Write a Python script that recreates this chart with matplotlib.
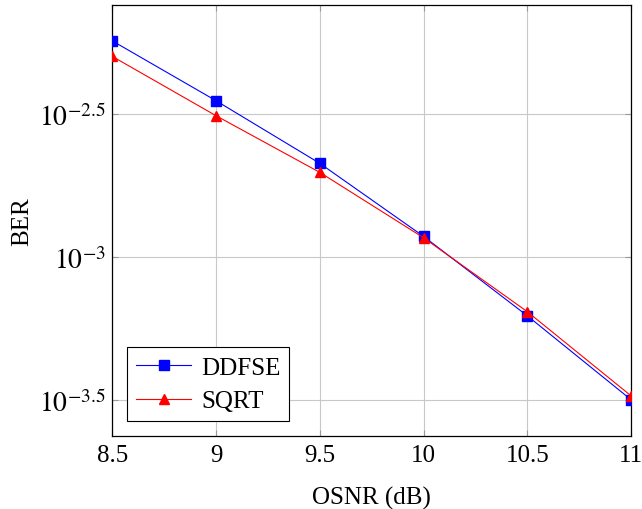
import numpy as np
import matplotlib.pyplot as plt
from matplotlib.ticker import FixedLocator, FixedFormatter, NullLocator

plt.rcParams['font.family'] = ['Liberation Serif', 'DejaVu Serif']
plt.rcParams['mathtext.fontset'] = 'stix'

osnr = [8.5, 9, 9.5, 10, 10.5, 11]
ber_ddfse = [5.70e-3, 3.52e-3, 2.126e-3, 1.181e-3, 6.23e-4, 3.17e-4]
ber_sqrt = [5.03e-3, 3.12e-3, 1.977e-3, 1.168e-3, 6.44e-4, 3.27e-4]
ytick_exp = [-3.5, -3.0, -2.5]
ytick_labels = [r'$10^{-3.5}$', r'$10^{-3}$', r'$10^{-2.5}$']
xtick_labels = ['8.5', '9', '9.5', '10', '10.5', '11']

fig = plt.figure(figsize=(6.42, 5.10), dpi=100)
ax = fig.add_axes([0.175, 0.143, 0.808, 0.845])

ax.plot(osnr, ber_ddfse, color='blue', marker='s', markersize=7.5, lw=0.8, label='DDFSE', zorder=3)
ax.plot(osnr, ber_sqrt, color='red', marker='^', markersize=6.5, lw=0.8, label='SQRT', zorder=3)

ax.set_yscale('log')
ax.set_xlim(8.5, 11)
ax.set_ylim(10 ** -3.626, 10 ** -2.119)

ax.yaxis.set_major_locator(FixedLocator([10 ** e for e in ytick_exp]))
ax.yaxis.set_major_formatter(FixedFormatter(ytick_labels))
ax.yaxis.set_minor_locator(NullLocator())
ax.set_xticks(osnr)
ax.set_xticklabels(xtick_labels)

ax.grid(True, color='#c8c8c8', lw=0.8)
ax.set_axisbelow(True)
ax.tick_params(direction='in', top=True, right=True, length=4, width=0.8,
               color='#999999', labelsize=18, pad=6)
ax.tick_params(axis='y', labelsize=20, pad=5)
for s in ax.spines.values():
    s.set_linewidth(0.9)

ax.set_xlabel('OSNR (dB)', fontsize=18, labelpad=14)
ax.set_ylabel('BER', fontsize=18, labelpad=4)

leg = ax.legend(loc='lower left', fontsize=18, fancybox=False, edgecolor='black',
                framealpha=1, handlelength=2.2, borderaxespad=0.6,
                borderpad=0.35, labelspacing=0.45, handletextpad=0.4)
leg.get_frame().set_linewidth(0.8)

fig.savefig('out.png', dpi=100)
